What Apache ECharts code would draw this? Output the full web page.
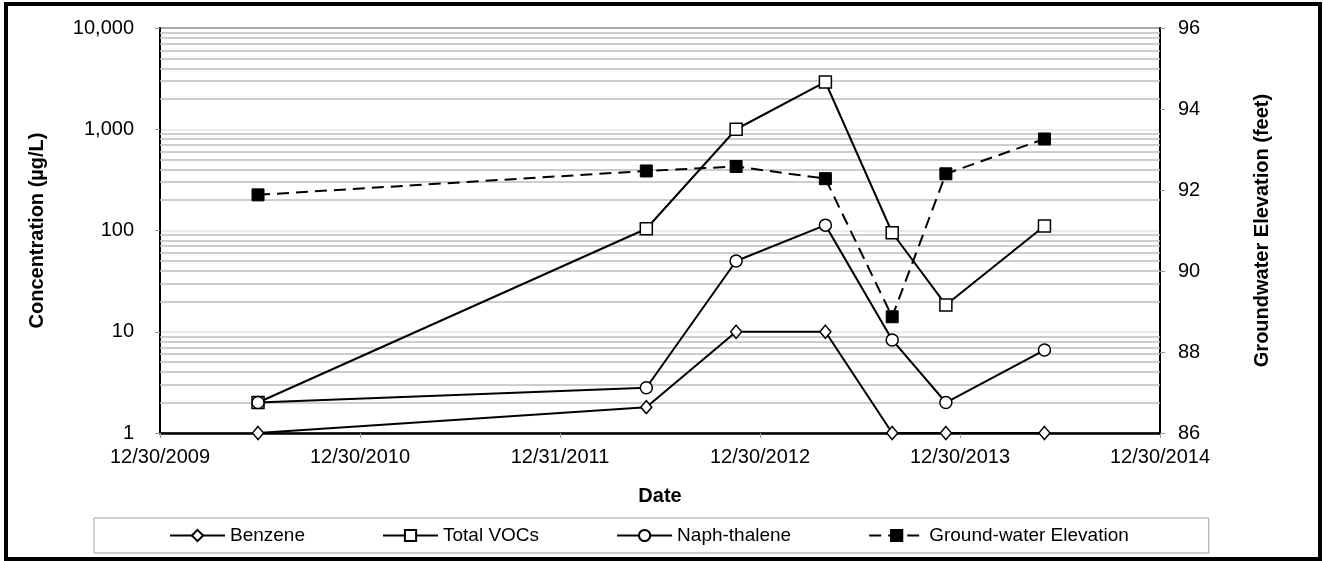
<!DOCTYPE html>
<html>
<head>
<meta charset="utf-8">
<script src="https://cdn.jsdelivr.net/npm/echarts@6/dist/echarts.min.js"></script>
<style>
html,body{margin:0;padding:0;background:#fff;}
#chart{width:1323px;height:561px;}
</style>
</head>
<body>
<div id="chart"></div>
<script>
// ---- data ----
const sampleDates = ['2010-06-27','2012-06-05','2012-11-16','2013-04-28','2013-08-28','2013-12-04','2014-06-02'];
const benzene = [1, 1.8, 10, 10, 1, 1, 1];
const totalVOCs = [2, 104, 1000, 2930, 95, 18.4, 111];
const naphthalene = [2, 2.8, 50, 113, 8.3, 2, 6.6];
const gwElevation = [91.88, 92.47, 92.58, 92.28, 88.87, 92.40, 93.26];
const xTickLabels = ['12/30/2009','12/30/2010','12/31/2011','12/30/2012','12/30/2013','12/30/2014'];
const axisStartDate = '2009-12-30';
const axisEndDate = '2014-12-30';
const seriesNames = ['Benzene','Total VOCs','Naph-thalene','Ground-water Elevation'];

// ---- helpers ----
function toDay(s){
  const p = s.split('-').map(Number);
  const a = axisStartDate.split('-').map(Number);
  return (Date.UTC(p[0],p[1]-1,p[2]) - Date.UTC(a[0],a[1]-1,a[2]))/86400000;
}
const xMax = toDay(axisEndDate);
const xInterval = xMax/(xTickLabels.length-1);
function pairs(vals){ return vals.map((v,i)=>[toDay(sampleDates[i]), v]); }

const minorVals = [];
for (let k=0;k<4;k++){ for (let m=2;m<=9;m++){ minorVals.push(m*Math.pow(10,k)); } }

const FONT = 'Liberation Sans, Arial, sans-serif';
const lineStyleBase = {color:'#000', width:2};

const chart = echarts.init(document.getElementById('chart'), null, {renderer:'canvas'});
chart.setOption({
  animation:false,
  backgroundColor:'#fff',
  textStyle:{fontFamily:FONT, color:'#000'},
  graphic:[{
    type:'rect', silent:true, z:100,
    shape:{x:6, y:4, width:1314, height:555},
    style:{fill:'none', stroke:'#000', lineWidth:4}
  }],
  legend:{
    data:seriesNames,
    left:94, top:518,
    padding:[8,80,8,75],
    itemGap:77,
    itemWidth:55, itemHeight:14,
    borderColor:'#a0a0a0', borderWidth:1,
    textStyle:{fontFamily:FONT, fontSize:19, color:'#000'}
  },
  grid:{left:160, right:163, top:28, bottom:128, show:true, borderColor:'#000', borderWidth:2, backgroundColor:'transparent'},
  xAxis:{
    type:'value', min:0, max:xMax, interval:xInterval,
    name:'Date', nameLocation:'middle', nameGap:53,
    nameTextStyle:{fontFamily:FONT, fontSize:20, fontWeight:'bold', color:'#000'},
    axisLine:{show:true, lineStyle:{color:'#000', width:2.5}},
    axisTick:{show:true, length:5, lineStyle:{color:'#999'}},
    axisLabel:{fontFamily:FONT, fontSize:20, color:'#000', margin:14,
      formatter:function(v){ return xTickLabels[Math.round(v/xInterval)] || ''; }},
    splitLine:{show:false}
  },
  yAxis:[{
    type:'log', logBase:10, min:1, max:10000,
    name:'Concentration (µg/L)', nameLocation:'middle', nameGap:113,
    nameTextStyle:{fontFamily:FONT, fontSize:20, fontWeight:'bold', color:'#000'},
    axisLine:{show:true, lineStyle:{color:'#000', width:2}},
    axisTick:{show:true, length:5, lineStyle:{color:'#999'}},
    axisLabel:{fontFamily:FONT, fontSize:20, color:'#000', margin:26,
      formatter:function(v){ return Number(v).toLocaleString('en-US'); }},
    splitLine:{show:true, lineStyle:{color:'#e4e4e4', width:1.5}}
  },{
    type:'value', min:86, max:96, interval:2, position:'right',
    name:'Groundwater Elevation (feet)', nameLocation:'middle', nameGap:92,
    nameTextStyle:{fontFamily:FONT, fontSize:20, fontWeight:'bold', color:'#000'},
    axisLine:{show:true, lineStyle:{color:'#000', width:2}},
    axisTick:{show:true, length:5, lineStyle:{color:'#999'}},
    axisLabel:{fontFamily:FONT, fontSize:20, color:'#000', margin:18},
    splitLine:{show:false}
  }],
  series:[
    {
      name:'_minorGrid', type:'line', data:[], yAxisIndex:0, silent:true,
      markLine:{silent:true, symbol:['none','none'], label:{show:false},
        lineStyle:{color:'#bdbdbd', width:1.6, type:'solid'},
        emphasis:{disabled:true},
        data:minorVals.map(v=>({yAxis:v}))}
    },
    {
      name:seriesNames[0], type:'line', yAxisIndex:0, data:pairs(benzene),
      symbol:'diamond', symbolSize:[11,13], showAllSymbol:true,
      lineStyle:lineStyleBase, itemStyle:{color:'#fff', borderColor:'#000', borderWidth:1.5}, z:5
    },
    {
      name:seriesNames[1], type:'line', yAxisIndex:0, data:pairs(totalVOCs),
      symbol:'rect', symbolSize:12,
      lineStyle:lineStyleBase, itemStyle:{color:'#fff', borderColor:'#000', borderWidth:1.5}, z:5
    },
    {
      name:seriesNames[2], type:'line', yAxisIndex:0, data:pairs(naphthalene),
      symbol:'circle', symbolSize:12,
      lineStyle:lineStyleBase, itemStyle:{color:'#fff', borderColor:'#000', borderWidth:1.5}, z:5
    },
    {
      name:seriesNames[3], type:'line', yAxisIndex:1, data:pairs(gwElevation),
      symbol:'rect', symbolSize:12,
      lineStyle:{color:'#000', width:2, type:[12,7]}, itemStyle:{color:'#000', borderColor:'#000', borderWidth:1}, z:5
    }
  ]
});
</script>
</body>
</html>
